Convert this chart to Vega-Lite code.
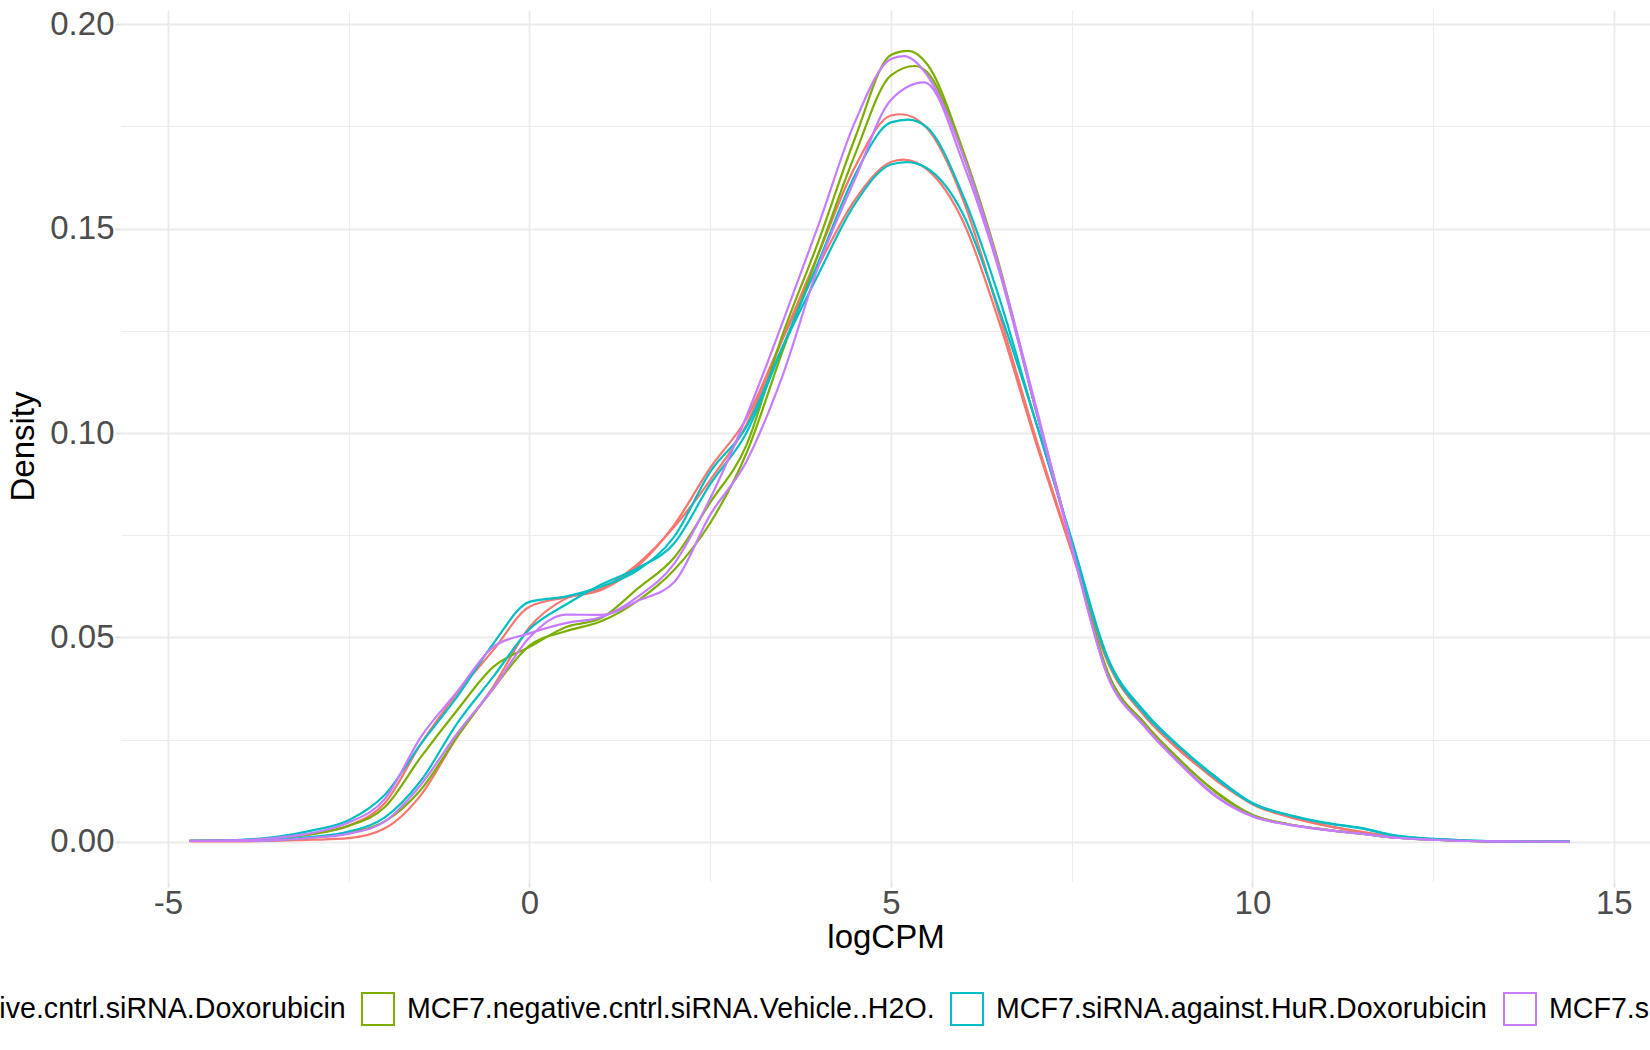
{
  "$schema": "https://vega.github.io/schema/vega-lite/v6.json",
  "description": "Density of logCPM per sample, coloured by condition.",
  "width": 1529,
  "height": 872,
  "autosize": {"type": "none"},
  "padding": {"left": 121, "top": 10, "right": 0, "bottom": 168},
  "background": "white",
  "config": {
    "view": {"stroke": null},
    "font": "Liberation Sans"
  },
  "datasets": {
    "samples": [
      {"sample": "negDox1", "group": "MCF7.negative.cntrl.siRNA.Doxorubicin"},
      {"sample": "negDox2", "group": "MCF7.negative.cntrl.siRNA.Doxorubicin"},
      {"sample": "negVeh1", "group": "MCF7.negative.cntrl.siRNA.Vehicle..H2O."},
      {"sample": "negVeh2", "group": "MCF7.negative.cntrl.siRNA.Vehicle..H2O."},
      {"sample": "HuRDox1", "group": "MCF7.siRNA.against.HuR.Doxorubicin"},
      {"sample": "HuRDox2", "group": "MCF7.siRNA.against.HuR.Doxorubicin"},
      {"sample": "HuRVeh1", "group": "MCF7.siRNA.against.HuR.Vehicle..H2O."},
      {"sample": "HuRVeh2", "group": "MCF7.siRNA.against.HuR.Vehicle..H2O."}
    ],
    "curves": [
      {"sample": "negDox1", "logCPM": -4.7, "density": 0.0002},
      {"sample": "negDox1", "logCPM": -4, "density": 0.0004},
      {"sample": "negDox1", "logCPM": -3.5, "density": 0.0009},
      {"sample": "negDox1", "logCPM": -3, "density": 0.002},
      {"sample": "negDox1", "logCPM": -2.5, "density": 0.004},
      {"sample": "negDox1", "logCPM": -2, "density": 0.0095},
      {"sample": "negDox1", "logCPM": -1.5, "density": 0.024},
      {"sample": "negDox1", "logCPM": -1, "density": 0.0363},
      {"sample": "negDox1", "logCPM": -0.5, "density": 0.0469},
      {"sample": "negDox1", "logCPM": 0, "density": 0.0575},
      {"sample": "negDox1", "logCPM": 0.5, "density": 0.0598},
      {"sample": "negDox1", "logCPM": 1, "density": 0.0617},
      {"sample": "negDox1", "logCPM": 1.5, "density": 0.0675},
      {"sample": "negDox1", "logCPM": 2, "density": 0.0775},
      {"sample": "negDox1", "logCPM": 2.5, "density": 0.0915},
      {"sample": "negDox1", "logCPM": 3, "density": 0.1035},
      {"sample": "negDox1", "logCPM": 3.5, "density": 0.123},
      {"sample": "negDox1", "logCPM": 4, "density": 0.141},
      {"sample": "negDox1", "logCPM": 4.5, "density": 0.157},
      {"sample": "negDox1", "logCPM": 5, "density": 0.1663},
      {"sample": "negDox1", "logCPM": 5.17, "density": 0.1669},
      {"sample": "negDox1", "logCPM": 5.5, "density": 0.1645},
      {"sample": "negDox1", "logCPM": 6, "density": 0.1517},
      {"sample": "negDox1", "logCPM": 6.5, "density": 0.127},
      {"sample": "negDox1", "logCPM": 7, "density": 0.098},
      {"sample": "negDox1", "logCPM": 7.5, "density": 0.071},
      {"sample": "negDox1", "logCPM": 8, "density": 0.044},
      {"sample": "negDox1", "logCPM": 8.5, "density": 0.031},
      {"sample": "negDox1", "logCPM": 9, "density": 0.0225},
      {"sample": "negDox1", "logCPM": 9.5, "density": 0.015},
      {"sample": "negDox1", "logCPM": 10, "density": 0.0094},
      {"sample": "negDox1", "logCPM": 10.5, "density": 0.0063},
      {"sample": "negDox1", "logCPM": 11, "density": 0.0041},
      {"sample": "negDox1", "logCPM": 11.5, "density": 0.0025},
      {"sample": "negDox1", "logCPM": 12, "density": 0.0012},
      {"sample": "negDox1", "logCPM": 12.5, "density": 0.0006},
      {"sample": "negDox1", "logCPM": 13, "density": 0.0002},
      {"sample": "negDox1", "logCPM": 13.5, "density": 0.0001},
      {"sample": "negDox1", "logCPM": 14.39, "density": 0.00003},

      {"sample": "negDox2", "logCPM": -4.7, "density": 0.0001},
      {"sample": "negDox2", "logCPM": -4, "density": 0.0001},
      {"sample": "negDox2", "logCPM": -3.5, "density": 0.0003},
      {"sample": "negDox2", "logCPM": -3, "density": 0.0005},
      {"sample": "negDox2", "logCPM": -2.5, "density": 0.0009},
      {"sample": "negDox2", "logCPM": -2, "density": 0.0033},
      {"sample": "negDox2", "logCPM": -1.5, "density": 0.0115},
      {"sample": "negDox2", "logCPM": -1, "density": 0.0257},
      {"sample": "negDox2", "logCPM": -0.5, "density": 0.038},
      {"sample": "negDox2", "logCPM": 0, "density": 0.0525},
      {"sample": "negDox2", "logCPM": 0.5, "density": 0.0595},
      {"sample": "negDox2", "logCPM": 1, "density": 0.062},
      {"sample": "negDox2", "logCPM": 1.5, "density": 0.068},
      {"sample": "negDox2", "logCPM": 2, "density": 0.077},
      {"sample": "negDox2", "logCPM": 2.5, "density": 0.0885},
      {"sample": "negDox2", "logCPM": 3, "density": 0.102},
      {"sample": "negDox2", "logCPM": 3.5, "density": 0.123},
      {"sample": "negDox2", "logCPM": 4, "density": 0.144},
      {"sample": "negDox2", "logCPM": 4.5, "density": 0.165},
      {"sample": "negDox2", "logCPM": 5, "density": 0.1777},
      {"sample": "negDox2", "logCPM": 5.14, "density": 0.178},
      {"sample": "negDox2", "logCPM": 5.5, "density": 0.1746},
      {"sample": "negDox2", "logCPM": 6, "density": 0.157},
      {"sample": "negDox2", "logCPM": 6.5, "density": 0.129},
      {"sample": "negDox2", "logCPM": 7, "density": 0.099},
      {"sample": "negDox2", "logCPM": 7.5, "density": 0.0715},
      {"sample": "negDox2", "logCPM": 8, "density": 0.044},
      {"sample": "negDox2", "logCPM": 8.5, "density": 0.031},
      {"sample": "negDox2", "logCPM": 9, "density": 0.0222},
      {"sample": "negDox2", "logCPM": 9.5, "density": 0.0152},
      {"sample": "negDox2", "logCPM": 10, "density": 0.0092},
      {"sample": "negDox2", "logCPM": 10.5, "density": 0.0061},
      {"sample": "negDox2", "logCPM": 11, "density": 0.004},
      {"sample": "negDox2", "logCPM": 11.5, "density": 0.0024},
      {"sample": "negDox2", "logCPM": 12, "density": 0.0012},
      {"sample": "negDox2", "logCPM": 12.5, "density": 0.0006},
      {"sample": "negDox2", "logCPM": 13, "density": 0.0002},
      {"sample": "negDox2", "logCPM": 13.5, "density": 0.0001},
      {"sample": "negDox2", "logCPM": 14.39, "density": 0.00003},

      {"sample": "negVeh1", "logCPM": -4.7, "density": 0.0003},
      {"sample": "negVeh1", "logCPM": -4, "density": 0.0004},
      {"sample": "negVeh1", "logCPM": -3.5, "density": 0.0009},
      {"sample": "negVeh1", "logCPM": -3, "density": 0.0019},
      {"sample": "negVeh1", "logCPM": -2.5, "density": 0.0039},
      {"sample": "negVeh1", "logCPM": -2, "density": 0.0085},
      {"sample": "negVeh1", "logCPM": -1.5, "density": 0.0208},
      {"sample": "negVeh1", "logCPM": -1, "density": 0.0322},
      {"sample": "negVeh1", "logCPM": -0.5, "density": 0.0428},
      {"sample": "negVeh1", "logCPM": 0, "density": 0.0477},
      {"sample": "negVeh1", "logCPM": 0.5, "density": 0.0525},
      {"sample": "negVeh1", "logCPM": 1, "density": 0.0548},
      {"sample": "negVeh1", "logCPM": 1.5, "density": 0.062},
      {"sample": "negVeh1", "logCPM": 2, "density": 0.0695},
      {"sample": "negVeh1", "logCPM": 2.5, "density": 0.083},
      {"sample": "negVeh1", "logCPM": 3, "density": 0.097},
      {"sample": "negVeh1", "logCPM": 3.5, "density": 0.124},
      {"sample": "negVeh1", "logCPM": 4, "density": 0.147},
      {"sample": "negVeh1", "logCPM": 4.5, "density": 0.172},
      {"sample": "negVeh1", "logCPM": 5, "density": 0.1925},
      {"sample": "negVeh1", "logCPM": 5.24, "density": 0.1935},
      {"sample": "negVeh1", "logCPM": 5.5, "density": 0.1903},
      {"sample": "negVeh1", "logCPM": 6, "density": 0.169},
      {"sample": "negVeh1", "logCPM": 6.5, "density": 0.141},
      {"sample": "negVeh1", "logCPM": 7, "density": 0.106},
      {"sample": "negVeh1", "logCPM": 7.5, "density": 0.073},
      {"sample": "negVeh1", "logCPM": 8, "density": 0.0415},
      {"sample": "negVeh1", "logCPM": 8.5, "density": 0.029},
      {"sample": "negVeh1", "logCPM": 9, "density": 0.0198},
      {"sample": "negVeh1", "logCPM": 9.5, "density": 0.0122},
      {"sample": "negVeh1", "logCPM": 10, "density": 0.0066},
      {"sample": "negVeh1", "logCPM": 10.5, "density": 0.0043},
      {"sample": "negVeh1", "logCPM": 11, "density": 0.003},
      {"sample": "negVeh1", "logCPM": 11.5, "density": 0.002},
      {"sample": "negVeh1", "logCPM": 12, "density": 0.001},
      {"sample": "negVeh1", "logCPM": 12.5, "density": 0.0005},
      {"sample": "negVeh1", "logCPM": 13, "density": 0.0002},
      {"sample": "negVeh1", "logCPM": 13.5, "density": 0.0001},
      {"sample": "negVeh1", "logCPM": 14.39, "density": 0.00002},

      {"sample": "negVeh2", "logCPM": -4.7, "density": 0.0002},
      {"sample": "negVeh2", "logCPM": -4, "density": 0.0002},
      {"sample": "negVeh2", "logCPM": -3.5, "density": 0.0004},
      {"sample": "negVeh2", "logCPM": -3, "density": 0.001},
      {"sample": "negVeh2", "logCPM": -2.5, "density": 0.0022},
      {"sample": "negVeh2", "logCPM": -2, "density": 0.005},
      {"sample": "negVeh2", "logCPM": -1.5, "density": 0.0128},
      {"sample": "negVeh2", "logCPM": -1, "density": 0.0257},
      {"sample": "negVeh2", "logCPM": -0.5, "density": 0.0375},
      {"sample": "negVeh2", "logCPM": 0, "density": 0.048},
      {"sample": "negVeh2", "logCPM": 0.5, "density": 0.0515},
      {"sample": "negVeh2", "logCPM": 1, "density": 0.054},
      {"sample": "negVeh2", "logCPM": 1.5, "density": 0.059},
      {"sample": "negVeh2", "logCPM": 2, "density": 0.0665},
      {"sample": "negVeh2", "logCPM": 2.5, "density": 0.078},
      {"sample": "negVeh2", "logCPM": 3, "density": 0.095},
      {"sample": "negVeh2", "logCPM": 3.5, "density": 0.12},
      {"sample": "negVeh2", "logCPM": 4, "density": 0.144},
      {"sample": "negVeh2", "logCPM": 4.5, "density": 0.168},
      {"sample": "negVeh2", "logCPM": 5, "density": 0.1875},
      {"sample": "negVeh2", "logCPM": 5.33, "density": 0.1898},
      {"sample": "negVeh2", "logCPM": 5.5, "density": 0.1883},
      {"sample": "negVeh2", "logCPM": 6, "density": 0.168},
      {"sample": "negVeh2", "logCPM": 6.5, "density": 0.14},
      {"sample": "negVeh2", "logCPM": 7, "density": 0.106},
      {"sample": "negVeh2", "logCPM": 7.5, "density": 0.0728},
      {"sample": "negVeh2", "logCPM": 8, "density": 0.041},
      {"sample": "negVeh2", "logCPM": 8.5, "density": 0.0292},
      {"sample": "negVeh2", "logCPM": 9, "density": 0.02},
      {"sample": "negVeh2", "logCPM": 9.5, "density": 0.012},
      {"sample": "negVeh2", "logCPM": 10, "density": 0.0065},
      {"sample": "negVeh2", "logCPM": 10.5, "density": 0.0043},
      {"sample": "negVeh2", "logCPM": 11, "density": 0.003},
      {"sample": "negVeh2", "logCPM": 11.5, "density": 0.002},
      {"sample": "negVeh2", "logCPM": 12, "density": 0.001},
      {"sample": "negVeh2", "logCPM": 12.5, "density": 0.0005},
      {"sample": "negVeh2", "logCPM": 13, "density": 0.0002},
      {"sample": "negVeh2", "logCPM": 13.5, "density": 0.0001},
      {"sample": "negVeh2", "logCPM": 14.39, "density": 0.00002},

      {"sample": "HuRDox1", "logCPM": -4.7, "density": 0.0003},
      {"sample": "HuRDox1", "logCPM": -4, "density": 0.0005},
      {"sample": "HuRDox1", "logCPM": -3.5, "density": 0.0012},
      {"sample": "HuRDox1", "logCPM": -3, "density": 0.0028},
      {"sample": "HuRDox1", "logCPM": -2.5, "density": 0.0053},
      {"sample": "HuRDox1", "logCPM": -2, "density": 0.0115},
      {"sample": "HuRDox1", "logCPM": -1.5, "density": 0.024},
      {"sample": "HuRDox1", "logCPM": -1, "density": 0.0355},
      {"sample": "HuRDox1", "logCPM": -0.5, "density": 0.0485},
      {"sample": "HuRDox1", "logCPM": 0, "density": 0.0587},
      {"sample": "HuRDox1", "logCPM": 0.5, "density": 0.06},
      {"sample": "HuRDox1", "logCPM": 1, "density": 0.0625},
      {"sample": "HuRDox1", "logCPM": 1.5, "density": 0.0665},
      {"sample": "HuRDox1", "logCPM": 2, "density": 0.0746},
      {"sample": "HuRDox1", "logCPM": 2.5, "density": 0.0905},
      {"sample": "HuRDox1", "logCPM": 3, "density": 0.1015},
      {"sample": "HuRDox1", "logCPM": 3.5, "density": 0.121},
      {"sample": "HuRDox1", "logCPM": 4, "density": 0.139},
      {"sample": "HuRDox1", "logCPM": 4.5, "density": 0.156},
      {"sample": "HuRDox1", "logCPM": 5, "density": 0.1657},
      {"sample": "HuRDox1", "logCPM": 5.22, "density": 0.1663},
      {"sample": "HuRDox1", "logCPM": 5.5, "density": 0.1648},
      {"sample": "HuRDox1", "logCPM": 6, "density": 0.1535},
      {"sample": "HuRDox1", "logCPM": 6.5, "density": 0.13},
      {"sample": "HuRDox1", "logCPM": 7, "density": 0.103},
      {"sample": "HuRDox1", "logCPM": 7.5, "density": 0.0735},
      {"sample": "HuRDox1", "logCPM": 8, "density": 0.0445},
      {"sample": "HuRDox1", "logCPM": 8.5, "density": 0.0315},
      {"sample": "HuRDox1", "logCPM": 9, "density": 0.023},
      {"sample": "HuRDox1", "logCPM": 9.5, "density": 0.0155},
      {"sample": "HuRDox1", "logCPM": 10, "density": 0.0094},
      {"sample": "HuRDox1", "logCPM": 10.5, "density": 0.0065},
      {"sample": "HuRDox1", "logCPM": 11, "density": 0.0046},
      {"sample": "HuRDox1", "logCPM": 11.5, "density": 0.0033},
      {"sample": "HuRDox1", "logCPM": 12, "density": 0.0014},
      {"sample": "HuRDox1", "logCPM": 12.5, "density": 0.0007},
      {"sample": "HuRDox1", "logCPM": 13, "density": 0.0003},
      {"sample": "HuRDox1", "logCPM": 13.5, "density": 0.0001},
      {"sample": "HuRDox1", "logCPM": 14.39, "density": 0.00003},

      {"sample": "HuRDox2", "logCPM": -4.7, "density": 0.0002},
      {"sample": "HuRDox2", "logCPM": -4, "density": 0.0002},
      {"sample": "HuRDox2", "logCPM": -3.5, "density": 0.0005},
      {"sample": "HuRDox2", "logCPM": -3, "density": 0.0012},
      {"sample": "HuRDox2", "logCPM": -2.5, "density": 0.0025},
      {"sample": "HuRDox2", "logCPM": -2, "density": 0.006},
      {"sample": "HuRDox2", "logCPM": -1.5, "density": 0.015},
      {"sample": "HuRDox2", "logCPM": -1, "density": 0.029},
      {"sample": "HuRDox2", "logCPM": -0.5, "density": 0.0404},
      {"sample": "HuRDox2", "logCPM": 0, "density": 0.052},
      {"sample": "HuRDox2", "logCPM": 0.5, "density": 0.058},
      {"sample": "HuRDox2", "logCPM": 1, "density": 0.063},
      {"sample": "HuRDox2", "logCPM": 1.5, "density": 0.067},
      {"sample": "HuRDox2", "logCPM": 2, "density": 0.073},
      {"sample": "HuRDox2", "logCPM": 2.5, "density": 0.0875},
      {"sample": "HuRDox2", "logCPM": 3, "density": 0.1},
      {"sample": "HuRDox2", "logCPM": 3.5, "density": 0.121},
      {"sample": "HuRDox2", "logCPM": 4, "density": 0.142},
      {"sample": "HuRDox2", "logCPM": 4.5, "density": 0.163},
      {"sample": "HuRDox2", "logCPM": 5, "density": 0.176},
      {"sample": "HuRDox2", "logCPM": 5.24, "density": 0.1767},
      {"sample": "HuRDox2", "logCPM": 5.5, "density": 0.1748},
      {"sample": "HuRDox2", "logCPM": 6, "density": 0.158},
      {"sample": "HuRDox2", "logCPM": 6.5, "density": 0.133},
      {"sample": "HuRDox2", "logCPM": 7, "density": 0.103},
      {"sample": "HuRDox2", "logCPM": 7.5, "density": 0.074},
      {"sample": "HuRDox2", "logCPM": 8, "density": 0.045},
      {"sample": "HuRDox2", "logCPM": 8.5, "density": 0.032},
      {"sample": "HuRDox2", "logCPM": 9, "density": 0.0232},
      {"sample": "HuRDox2", "logCPM": 9.5, "density": 0.0158},
      {"sample": "HuRDox2", "logCPM": 10, "density": 0.0095},
      {"sample": "HuRDox2", "logCPM": 10.5, "density": 0.0066},
      {"sample": "HuRDox2", "logCPM": 11, "density": 0.0047},
      {"sample": "HuRDox2", "logCPM": 11.5, "density": 0.0034},
      {"sample": "HuRDox2", "logCPM": 12, "density": 0.0015},
      {"sample": "HuRDox2", "logCPM": 12.5, "density": 0.0007},
      {"sample": "HuRDox2", "logCPM": 13, "density": 0.0003},
      {"sample": "HuRDox2", "logCPM": 13.5, "density": 0.0001},
      {"sample": "HuRDox2", "logCPM": 14.39, "density": 0.00003},

      {"sample": "HuRVeh1", "logCPM": -4.7, "density": 0.0003},
      {"sample": "HuRVeh1", "logCPM": -4, "density": 0.0004},
      {"sample": "HuRVeh1", "logCPM": -3.5, "density": 0.001},
      {"sample": "HuRVeh1", "logCPM": -3, "density": 0.0022},
      {"sample": "HuRVeh1", "logCPM": -2.5, "density": 0.0047},
      {"sample": "HuRVeh1", "logCPM": -2, "density": 0.0105},
      {"sample": "HuRVeh1", "logCPM": -1.5, "density": 0.0257},
      {"sample": "HuRVeh1", "logCPM": -1, "density": 0.0367},
      {"sample": "HuRVeh1", "logCPM": -0.5, "density": 0.0477},
      {"sample": "HuRVeh1", "logCPM": 0, "density": 0.051},
      {"sample": "HuRVeh1", "logCPM": 0.5, "density": 0.0535},
      {"sample": "HuRVeh1", "logCPM": 1, "density": 0.055},
      {"sample": "HuRVeh1", "logCPM": 1.5, "density": 0.06},
      {"sample": "HuRVeh1", "logCPM": 2, "density": 0.068},
      {"sample": "HuRVeh1", "logCPM": 2.5, "density": 0.084},
      {"sample": "HuRVeh1", "logCPM": 3, "density": 0.104},
      {"sample": "HuRVeh1", "logCPM": 3.5, "density": 0.127},
      {"sample": "HuRVeh1", "logCPM": 4, "density": 0.151},
      {"sample": "HuRVeh1", "logCPM": 4.5, "density": 0.176},
      {"sample": "HuRVeh1", "logCPM": 5, "density": 0.1915},
      {"sample": "HuRVeh1", "logCPM": 5.18, "density": 0.1922},
      {"sample": "HuRVeh1", "logCPM": 5.5, "density": 0.1876},
      {"sample": "HuRVeh1", "logCPM": 6, "density": 0.168},
      {"sample": "HuRVeh1", "logCPM": 6.5, "density": 0.1405},
      {"sample": "HuRVeh1", "logCPM": 7, "density": 0.107},
      {"sample": "HuRVeh1", "logCPM": 7.5, "density": 0.0725},
      {"sample": "HuRVeh1", "logCPM": 8, "density": 0.0405},
      {"sample": "HuRVeh1", "logCPM": 8.5, "density": 0.0285},
      {"sample": "HuRVeh1", "logCPM": 9, "density": 0.0192},
      {"sample": "HuRVeh1", "logCPM": 9.5, "density": 0.0112},
      {"sample": "HuRVeh1", "logCPM": 10, "density": 0.0063},
      {"sample": "HuRVeh1", "logCPM": 10.5, "density": 0.0042},
      {"sample": "HuRVeh1", "logCPM": 11, "density": 0.003},
      {"sample": "HuRVeh1", "logCPM": 11.5, "density": 0.002},
      {"sample": "HuRVeh1", "logCPM": 12, "density": 0.001},
      {"sample": "HuRVeh1", "logCPM": 12.5, "density": 0.0005},
      {"sample": "HuRVeh1", "logCPM": 13, "density": 0.0002},
      {"sample": "HuRVeh1", "logCPM": 13.5, "density": 0.0001},
      {"sample": "HuRVeh1", "logCPM": 14.39, "density": 0.00002},

      {"sample": "HuRVeh2", "logCPM": -4.7, "density": 0.0002},
      {"sample": "HuRVeh2", "logCPM": -4, "density": 0.0002},
      {"sample": "HuRVeh2", "logCPM": -3.5, "density": 0.0004},
      {"sample": "HuRVeh2", "logCPM": -3, "density": 0.001},
      {"sample": "HuRVeh2", "logCPM": -2.5, "density": 0.002},
      {"sample": "HuRVeh2", "logCPM": -2, "density": 0.005},
      {"sample": "HuRVeh2", "logCPM": -1.5, "density": 0.014},
      {"sample": "HuRVeh2", "logCPM": -1, "density": 0.0265},
      {"sample": "HuRVeh2", "logCPM": -0.5, "density": 0.0375},
      {"sample": "HuRVeh2", "logCPM": 0, "density": 0.05},
      {"sample": "HuRVeh2", "logCPM": 0.5, "density": 0.0556},
      {"sample": "HuRVeh2", "logCPM": 1, "density": 0.0555},
      {"sample": "HuRVeh2", "logCPM": 1.5, "density": 0.059},
      {"sample": "HuRVeh2", "logCPM": 2, "density": 0.0635},
      {"sample": "HuRVeh2", "logCPM": 2.5, "density": 0.08},
      {"sample": "HuRVeh2", "logCPM": 3, "density": 0.093},
      {"sample": "HuRVeh2", "logCPM": 3.5, "density": 0.114},
      {"sample": "HuRVeh2", "logCPM": 4, "density": 0.141},
      {"sample": "HuRVeh2", "logCPM": 4.5, "density": 0.162},
      {"sample": "HuRVeh2", "logCPM": 5, "density": 0.1815},
      {"sample": "HuRVeh2", "logCPM": 5.46, "density": 0.1858},
      {"sample": "HuRVeh2", "logCPM": 5.5, "density": 0.1856},
      {"sample": "HuRVeh2", "logCPM": 6, "density": 0.166},
      {"sample": "HuRVeh2", "logCPM": 6.5, "density": 0.1395},
      {"sample": "HuRVeh2", "logCPM": 7, "density": 0.106},
      {"sample": "HuRVeh2", "logCPM": 7.5, "density": 0.072},
      {"sample": "HuRVeh2", "logCPM": 8, "density": 0.0405},
      {"sample": "HuRVeh2", "logCPM": 8.5, "density": 0.0283},
      {"sample": "HuRVeh2", "logCPM": 9, "density": 0.019},
      {"sample": "HuRVeh2", "logCPM": 9.5, "density": 0.011},
      {"sample": "HuRVeh2", "logCPM": 10, "density": 0.0062},
      {"sample": "HuRVeh2", "logCPM": 10.5, "density": 0.0042},
      {"sample": "HuRVeh2", "logCPM": 11, "density": 0.0029},
      {"sample": "HuRVeh2", "logCPM": 11.5, "density": 0.002},
      {"sample": "HuRVeh2", "logCPM": 12, "density": 0.001},
      {"sample": "HuRVeh2", "logCPM": 12.5, "density": 0.0005},
      {"sample": "HuRVeh2", "logCPM": 13, "density": 0.0002},
      {"sample": "HuRVeh2", "logCPM": 13.5, "density": 0.0001},
      {"sample": "HuRVeh2", "logCPM": 14.39, "density": 0.00002}
    ]
  },
  "data": {"name": "curves"},
  "transform": [
    {"lookup": "sample", "from": {"data": {"name": "samples"}, "key": "sample", "fields": ["group"]}}
  ],
  "mark": {"type": "line", "interpolate": "monotone", "strokeWidth": 2.2},
  "encoding": {
    "x": {
      "field": "logCPM",
      "type": "quantitative",
      "scale": {"domain": [-5.65, 15.5], "nice": false, "zero": false},
      "axis": {
        "title": "logCPM",
        "values": [-5, -2.5, 0, 2.5, 5, 7.5, 10, 12.5, 15],
        "labelExpr": "datum.value % 5 === 0 ? '' + datum.value : ''",
        "domain": false,
        "ticks": true,
        "tickSize": 5,
        "tickColor": "#E0E0E0",
        "tickWidth": 1.8,
        "tickOpacity": {"condition": {"test": "datum.value % 5 === 0", "value": 1}, "value": 0},
        "labelPadding": 0,
        "labelFontSize": 33,
        "labelColor": "#4D4D4D",
        "titleFontSize": 33,
        "titleFontWeight": "normal",
        "titleColor": "#000000",
        "titlePadding": 1,
        "gridColor": "#EBEBEB",
        "gridWidth": {"condition": {"test": "datum.value % 5 === 0", "value": 1.8}, "value": 0.9}
      }
    },
    "y": {
      "field": "density",
      "type": "quantitative",
      "scale": {"domain": [-0.00983, 0.2035], "nice": false, "zero": false},
      "axis": {
        "title": "Density",
        "values": [0, 0.025, 0.05, 0.075, 0.1, 0.125, 0.15, 0.175, 0.2],
        "labelExpr": "round(datum.value * 40) % 2 === 0 ? format(datum.value, '.2f') : ''",
        "domain": false,
        "ticks": true,
        "tickSize": 6,
        "tickColor": "#E0E0E0",
        "tickWidth": 1.8,
        "tickOpacity": {"condition": {"test": "round(datum.value * 40) % 2 === 0", "value": 1}, "value": 0},
        "labelPadding": 1,
        "labelFontSize": 33,
        "labelColor": "#4D4D4D",
        "titleFontSize": 33,
        "titleFontWeight": "normal",
        "titleColor": "#000000",
        "titlePadding": 9,
        "gridColor": "#EBEBEB",
        "gridWidth": {"condition": {"test": "round(datum.value * 40) % 2 === 0", "value": 1.8}, "value": 0.9}
      }
    },
    "color": {
      "field": "group",
      "type": "nominal",
      "scale": {
        "domain": [
          "MCF7.negative.cntrl.siRNA.Doxorubicin",
          "MCF7.negative.cntrl.siRNA.Vehicle..H2O.",
          "MCF7.siRNA.against.HuR.Doxorubicin",
          "MCF7.siRNA.against.HuR.Vehicle..H2O."
        ],
        "range": ["#F8766D", "#7CAE00", "#00BFC4", "#C77CFF"]
      },
      "legend": {
        "title": null,
        "orient": "none",
        "legendX": -325,
        "legendY": 982,
        "direction": "horizontal",
        "columns": 4,
        "padding": 0,
        "symbolType": "square",
        "symbolSize": 1024,
        "symbolStrokeWidth": 2,
        "symbolFillColor": "white",
        "labelFontSize": 28.6,
        "labelColor": "#000000",
        "labelLimit": 1000,
        "labelOffset": 12,
        "columnPadding": 12
      }
    },
    "detail": {"field": "sample", "type": "nominal"}
  }
}
